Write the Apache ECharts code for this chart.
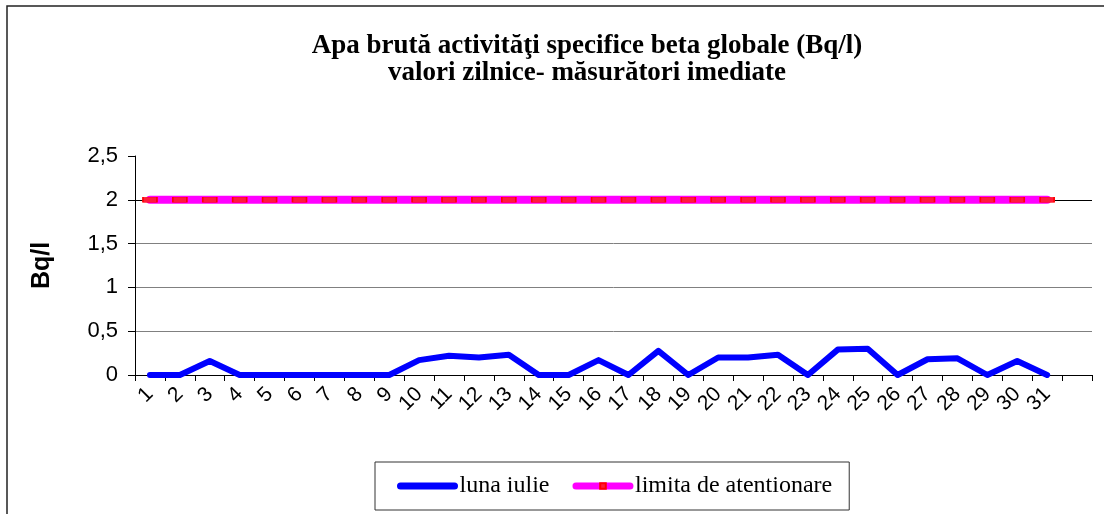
<!DOCTYPE html>
<html>
<head>
<meta charset="utf-8">
<script src="https://cdn.jsdelivr.net/npm/echarts@6/dist/echarts.min.js"></script>
<style>
  html, body { margin: 0; padding: 0; background: #fff; }
  #chart { width: 1104px; height: 514px; }
</style>
</head>
<body>
<div id="chart"></div>
<script>
var zile = ['1','2','3','4','5','6','7','8','9','10','11','12','13','14','15','16',
            '17','18','19','20','21','22','23','24','25','26','27','28','29','30','31',''];
var lunaIulie = [0, 0, 0.16, 0, 0, 0, 0, 0, 0, 0.17, 0.22, 0.2, 0.23, 0, 0, 0.17,
                 0, 0.275, 0, 0.2, 0.2, 0.23, 0, 0.29, 0.3, 0, 0.18, 0.19, 0, 0.16, 0];
var limita = [2, 2, 2, 2, 2, 2, 2, 2, 2, 2, 2, 2, 2, 2, 2, 2,
              2, 2, 2, 2, 2, 2, 2, 2, 2, 2, 2, 2, 2, 2, 2];

lineTable('chart');

function lineTable(id){
    var myChart = echarts.init(document.getElementById(id));

    var option = {
        animation: false,
        backgroundColor: '#fff',
        title: {
            text: 'Apa brută activităţi specifice beta globale (Bq/l)\nvalori zilnice- măsurători imediate',
            left: 582,
            top: 28,
            textAlign: 'center',
            textStyle: {
                fontFamily: 'Liberation Serif',
                fontWeight: 'bold',
                fontSize: 27,
                lineHeight: 27,
                color: '#000'
            }
        },
        graphic: [
            {
                type: 'rect',
                shape: {x: 7, y: 6, width: 1200, height: 600},
                style: {fill: 'none', stroke: '#222', lineWidth: 1.5},
                silent: true
            }
        ],
        legend: {
            bottom: 4,
            left: 375,
            orient: 'horizontal',
            padding: [12, 17, 12, 22],
            borderColor: '#333',
            borderWidth: 1,
            itemWidth: 54,
            itemHeight: 7,
            itemGap: 23,
            lineStyle: {width: 7, cap: 'round'},
            textStyle: {
                fontFamily: 'Liberation Serif',
                fontSize: 24,
                color: '#000'
            },
            data: ['luna iulie', 'limita de atentionare']
        },
        grid: {
            left: 135,
            right: 12,
            top: 156,
            bottom: 139
        },
        xAxis: {
            type: 'category',
            data: zile,
            boundaryGap: true,
            axisLine: {lineStyle: {color: '#000', width: 1}},
            axisTick: {show: true, length: 6, lineStyle: {color: '#000'}},
            axisLabel: {
                interval: 0,
                rotate: 45,
                margin: 16,
                fontFamily: 'Arial, Liberation Sans',
                fontSize: 21,
                color: '#000'
            },
            splitLine: {show: false}
        },
        yAxis: {
            type: 'value',
            min: 0,
            max: 2.5,
            interval: 0.5,
            name: 'Bq/l',
            nameLocation: 'middle',
            nameGap: 80,
            nameTextStyle: {
                fontFamily: 'Arial, Liberation Sans',
                fontWeight: 'bold',
                fontSize: 25,
                color: '#000'
            },
            axisLine: {show: true, lineStyle: {color: '#000', width: 1}},
            axisTick: {show: true, length: 7, lineStyle: {color: '#000'}},
            axisLabel: {
                margin: 17,
                fontFamily: 'Arial, Liberation Sans',
                fontSize: 22,
                color: '#000',
                formatter: function (v) { return String(v).replace('.', ','); }
            },
            splitLine: {
                show: true,
                showMaxLine: false,
                lineStyle: {color: ['#000', '#808080', '#808080', '#808080', '#000'], width: 1}
            }
        },
        series: [
            {
                name: 'luna iulie',
                type: 'line',
                data: lunaIulie,
                symbol: 'rect',
                showSymbol: false,
                color: '#0000ff',
                lineStyle: {color: '#0000ff', width: 6, cap: 'round', join: 'round'},
                z: 3
            },
            {
                name: 'limita de atentionare',
                type: 'line',
                data: limita,
                symbol: 'rect',
                symbolSize: [14, 5],
                showAllSymbol: true,
                color: '#ff0000',
                itemStyle: {color: '#ff1a3c', borderColor: '#ff0000', borderWidth: 1},
                lineStyle: {color: '#ff00ff', width: 8, cap: 'round', join: 'round'},
                z: 2
            }
        ]
    };

    myChart.setOption(option);
}
</script>
</body>
</html>
